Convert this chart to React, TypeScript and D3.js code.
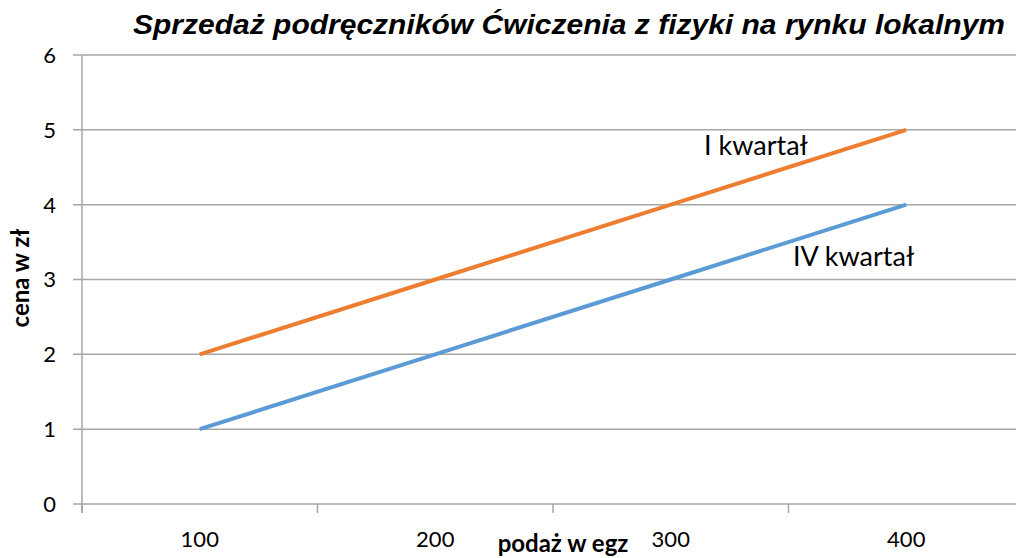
import React from "react";
import * as d3 from "d3";

const categories = ["100", "200", "300", "400"];
const seriesI = [2, 3, 4, 5];
const seriesIV = [1, 2, 3, 4];
const yTicks = [0, 1, 2, 3, 4, 5, 6];
const title = "Sprzedaż podręczników Ćwiczenia z fizyki na rynku lokalnym";
const xTitle = "podaż w egz";
const yTitle = "cena w zł";
const labelI = "I kwartał";
const labelIV = "IV kwartał";

const W = 1016;
const H = 558;
const left = 82;
const right = 1024;
const top = 55;
const bottom = 504;

export default function App() {
  const x = d3.scaleBand<string>().domain(categories).range([left, right]);
  const y = d3.scaleLinear().domain([0, 6]).range([bottom, top]);
  const cx = (c: string) => (x(c) as number) + x.bandwidth() / 2;
  const line = d3
    .line<number>()
    .x((_, i) => cx(categories[i]))
    .y((d) => y(d));
  const grid = "#a6a6a6";
  const font = "Lato, 'Open Sans', sans-serif";
  const ticksX = [...categories.map((c) => x(c) as number), right];
  return (
    <svg
      width={W}
      height={H}
      style={{ position: "absolute", left: 0, top: 0, background: "#fff" }}
    >
      <text
        x={133}
        y={34}
        textAnchor="start"
        fontFamily="'Liberation Sans', Arial, sans-serif"
        fontWeight="bold"
        fontStyle="italic"
        fontSize={28}
        textLength={872}
        lengthAdjust="spacingAndGlyphs"
        fill="#000"
      >
        {title}
      </text>
      {yTicks.map((t) => (
        <g key={t}>
          <line
            x1={left - 9}
            x2={W}
            y1={y(t)}
            y2={y(t)}
            stroke={grid}
            strokeWidth={1.5}
          />
          <text
            x={56}
            y={y(t)}
            dy="0.36em"
            textAnchor="end"
            fontFamily={font}
            fontSize={22}
            fill="#000"
          >
            {t}
          </text>
        </g>
      ))}
      <line x1={left} x2={left} y1={top} y2={bottom + 9} stroke={grid} strokeWidth={1.5} />
      {ticksX.map((t, i) => (
        <line key={i} x1={t} x2={t} y1={bottom} y2={bottom + 9} stroke={grid} strokeWidth={1.5} />
      ))}
      {categories.map((c) => (
        <text
          key={c}
          x={cx(c)}
          y={547}
          textAnchor="middle"
          fontFamily={font}
          fontSize={22}
          fill="#000"
        >
          {c}
        </text>
      ))}
      <path d={line(seriesI) as string} fill="none" stroke="#ed7d31" strokeWidth={4} />
      <path d={line(seriesIV) as string} fill="none" stroke="#5b9bd5" strokeWidth={4} />
      <text x={704} y={155} fontFamily={font} fontSize={27} fill="#000">
        {labelI}
      </text>
      <text x={793} y={266} fontFamily={font} fontSize={27} fill="#000">
        {labelIV}
      </text>
      <text
        x={563}
        y={552}
        textAnchor="middle"
        fontFamily={font}
        fontWeight="bold"
        fontSize={24}
        fill="#000"
      >
        {xTitle}
      </text>
      <text
        transform={`translate(29, 278) rotate(-90)`}
        textAnchor="middle"
        fontFamily={font}
        fontWeight="bold"
        fontSize={24}
        fill="#000"
      >
        {yTitle}
      </text>
    </svg>
  );
}
